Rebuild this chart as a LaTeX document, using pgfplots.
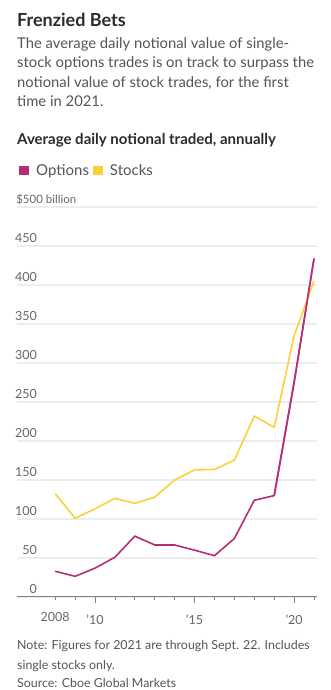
\documentclass[border=0pt]{standalone}
\usepackage{fontspec}
\setmainfont{Lato}
\usepackage{pgfplots}
\pgfplotsset{compat=1.18}
\definecolor{opt}{HTML}{B52E73}
\definecolor{stk}{HTML}{FBD13A}
\definecolor{gridc}{HTML}{EDEDED}
\definecolor{txt}{HTML}{666666}
\definecolor{sub}{HTML}{555555}
\definecolor{ttl}{HTML}{2B2B2B}
\begin{document}
\begin{tikzpicture}[x=1pt,y=1pt]
\path[use as bounding box] (0,0) rectangle (330,690);
\node[anchor=base west, inner sep=0pt, text=ttl] at (17,663.3) {\fontsize{18}{20}\selectfont\bfseries Frenzied Bets};
\begin{scope}[every node/.style={anchor=base west, inner sep=0pt, text=sub, font=\fontsize{14.8}{18}\selectfont}]
\node at (17,641.7) {The average daily notional value of single-};
\node at (17,622.0) {stock options trades is on track to surpass the};
\node at (17,602.3) {notional value of stock trades, for the first};
\node at (17,583.0) {time in 2021.};
\end{scope}
\node[anchor=base west, inner sep=0pt, text=ttl] at (17,545) {\fontsize{15}{17}\selectfont\bfseries Average daily notional traded, annually};
\begin{scope}[every node/.style={anchor=base west, inner sep=0pt, text=sub, font=\fontsize{12.4}{14}\selectfont}]
\node at (17,40) {Note: Figures for 2021 are through Sept. 22. Includes};
\node at (17,20) {single stocks only.};
\node at (17,2) {Source: Cboe Global Markets};
\end{scope}
\begin{axis}[at={(17pt,93pt)}, anchor=south west, scale only axis,
  width=300pt, height=390pt,
  xmin=2006.08, xmax=2021.15, ymin=0, ymax=500,
  axis x line*=bottom, axis y line*=left,
  y axis line style={draw=none},
  x axis line style={draw=black!50, line width=1pt},
  ytick={0,50,...,500},
  yticklabels={0,50,100,150,200,250,300,350,400,450,{\rlap{\hspace{-20pt}\fontsize{11.5}{14}\selectfont\$500 billion}}},
  ymajorgrids, grid style={gridc, line width=1.5pt},
  ytick style={draw=none},
  yticklabel style={anchor=base east, inner sep=0pt, xshift=26pt, yshift=3.5pt, font=\fontsize{12.5}{14}\selectfont, text=txt},
  xtick={2010,2015,2020}, xticklabels={’10,’15,’20},
  extra x ticks={2008}, extra x tick labels={2008},
  extra x tick style={major tick length=3pt},
  minor xtick={2009,2011,2012,2013,2014,2016,2017,2018,2019,2021},
  major tick length=6pt, minor tick length=3pt, tick align=outside,
  x tick style={black!50, line width=0.8pt},
  xticklabel style={anchor=base, inner sep=0pt, yshift=-22pt, font=\fontsize{12.5}{14}\selectfont, text=txt},
  legend style={at={(axis description cs:0,1)}, anchor=south west, xshift=2pt, yshift=30pt, draw=none, fill=none, inner sep=0pt, legend columns=-1, font=\fontsize{15}{18}\selectfont, text=sub, nodes={inner sep=0pt},
    /tikz/every odd column/.append style={column sep=7pt},
    /tikz/every even column/.append style={column sep=0pt}},
  legend image code/.code={\fill[#1,draw=none] (0pt,-4.5pt) rectangle (10pt,5pt);},
  clip=false,
]
\addplot[opt, line width=1.6pt] coordinates {(2008,33) (2009,26.5) (2010,37) (2011,51) (2012,78) (2013,66.7) (2014,66.7) (2015,60) (2016,53) (2017,75) (2018,124) (2019,130) (2020,275) (2021,434)};
\addlegendentry{Options\rule{4pt}{0pt}}
\addplot[stk, line width=1.6pt] coordinates {(2008,132.5) (2009,101) (2010,113) (2011,126.5) (2012,120) (2013,128) (2014,150) (2015,163) (2016,163.5) (2017,175.6) (2018,232) (2019,217.5) (2020,335) (2021,405)};
\addlegendentry{Stocks}
\addplot[opt, line width=1.6pt, forget plot] coordinates {(2019,130) (2020,275) (2021,434)};
\end{axis}
\end{tikzpicture}
\end{document}
